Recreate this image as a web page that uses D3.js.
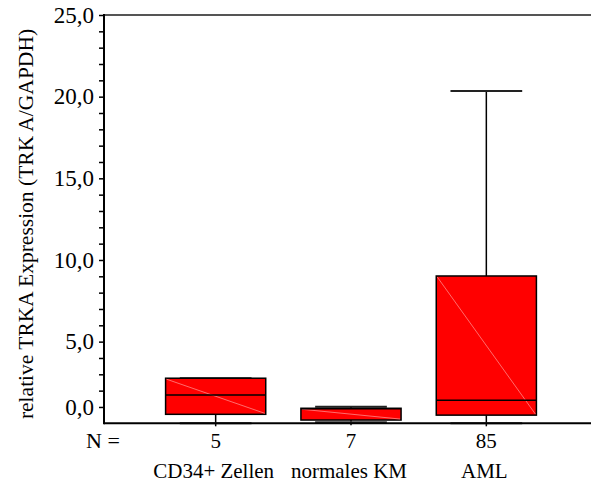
<!DOCTYPE html>
<html>
<head>
<meta charset="utf-8">
<script src="https://cdn.jsdelivr.net/npm/d3@7"></script>
</head>
<body style="margin:0">
<script>
/* DATA */

const categories = ["CD34+ Zellen", "normales KM", "AML"];
const counts = [5, 7, 85];
const whiskerLow = [0, 0.06, 0];
const q1 = [0.55, 0.2, 0.5];
const median = [1.73, 0.89, 1.41];
const q3 = [2.76, 0.92, 9.02];
const whiskerHigh = [2.76, 1.01, 20.35];

const majorTicks = [1, 5, 10, 15, 20, 25];
const tickLabels = ["0,0", "5,0", "10,0", "15,0", "20,0", "25,0"];
const minorTicks = d3.range(1, 25);

/* SET UP */

const w = 591;
const h = 484;
const m = { top: 15, right: 0, bottom: 61, left: 104 };
const font = "'Times New Roman', monospace";

const svg = d3
	.select("body")
	.append("svg")
	.attr("width", w)
	.attr("height", h);

const y = d3.scaleLinear().domain([0, 25]).range([h - m.bottom + 0.3, m.top]);
const x = d3.scaleBand().domain(categories).range([148, 554]).padding(0);

const boxW = x.bandwidth() * 0.74;
const capW = x.bandwidth() * 0.53;

const rows = categories.map((c, i) => ({
	cat: c,
	n: counts[i],
	lo: whiskerLow[i],
	q1: q1[i],
	med: median[i],
	q3: q3[i],
	hi: whiskerHigh[i],
}));

// boxes
const g = svg
	.selectAll(".box")
	.data(rows)
	.join("g")
	.attr("class", "box")
	.attr("transform", (d) => `translate(${x(d.cat) + x.bandwidth() / 2},0)`);

// whiskers
g.append("line")
	.attr("x1", 0).attr("x2", 0)
	.attr("y1", (d) => y(d.q3)).attr("y2", (d) => y(d.hi))
	.attr("stroke", "#000").attr("stroke-width", 1.5);
g.append("line")
	.attr("x1", 0).attr("x2", 0)
	.attr("y1", (d) => y(d.q1)).attr("y2", (d) => y(d.lo) + 3)
	.attr("stroke", "#000").attr("stroke-width", 1.5);
g.append("line")
	.attr("x1", -capW / 2).attr("x2", capW / 2)
	.attr("y1", (d) => y(d.hi)).attr("y2", (d) => y(d.hi))
	.attr("stroke", "#222").attr("stroke-width", 2);
g.append("line")
	.attr("x1", -capW / 2).attr("x2", capW / 2)
	.attr("y1", (d) => y(d.lo)).attr("y2", (d) => y(d.lo))
	.attr("stroke", "#333").attr("stroke-width", 2);

g.append("rect")
	.attr("x", -boxW / 2)
	.attr("width", boxW)
	.attr("y", (d) => y(d.q3))
	.attr("height", (d) => y(d.q1) - y(d.q3))
	.attr("fill", "#ff0000")
	.attr("stroke", "#000")
	.attr("stroke-width", 1.5);

// faint diagonal seen inside each box
g.append("line")
	.attr("x1", -boxW / 2 + 1).attr("x2", boxW / 2 - 1)
	.attr("y1", (d) => y(d.q3) + 1).attr("y2", (d) => y(d.q1) - 1)
	.attr("stroke", "#ff9a9a").attr("stroke-width", 0.7);

g.append("line")
	.attr("x1", -boxW / 2).attr("x2", boxW / 2)
	.attr("y1", (d) => y(d.med)).attr("y2", (d) => y(d.med))
	.attr("stroke", "#000").attr("stroke-width", 1.5);

/* AXES */

// frame lines
svg.append("line")
	.attr("x1", m.left).attr("x2", w)
	.attr("y1", m.top).attr("y2", m.top)
	.attr("stroke", "#555").attr("stroke-width", 2);
svg.append("line")
	.attr("x1", m.left).attr("x2", w)
	.attr("y1", y(0)).attr("y2", y(0))
	.attr("stroke", "#000").attr("stroke-width", 2);

const yAxis = d3
	.axisLeft(y)
	.tickValues(minorTicks.concat([25]))
	.tickSize(5)
	.tickFormat("");
svg.append("g")
	.attr("transform", `translate(${m.left},0)`)
	.call(yAxis)
	.call((s) => s.selectAll(".tick line").attr("stroke", "#000").attr("stroke-width", 1.5))
	.call((s) => s.select(".domain").remove());

svg.append("line")
	.attr("x1", m.left).attr("x2", m.left)
	.attr("y1", m.top - 1).attr("y2", y(0) + 1)
	.attr("stroke", "#000").attr("stroke-width", 2);

svg.selectAll(".ylab")
	.data(majorTicks)
	.join("text")
	.attr("class", "ylab")
	.attr("x", m.left - 10)
	.attr("y", (d) => y(d))
	.attr("dy", "0.34em")
	.attr("text-anchor", "end")
	.attr("font-family", font)
	.attr("font-size", 23)
	.text((d, i) => tickLabels[i]);

// N counts
svg.append("text")
	.attr("x", 103).attr("y", 448)
	.attr("text-anchor", "middle")
	.attr("font-family", font)
	.attr("font-size", 22)
	.text("N =");
svg.selectAll(".nlab")
	.data(rows)
	.join("text")
	.attr("class", "nlab")
	.attr("x", (d) => x(d.cat) + x.bandwidth() / 2)
	.attr("y", 448)
	.attr("text-anchor", "middle")
	.attr("font-family", font)
	.attr("font-size", 21)
	.text((d) => d.n);

svg.selectAll(".clab")
	.data(rows)
	.join("text")
	.attr("class", "clab")
	.attr("x", (d) => x(d.cat) + x.bandwidth() / 2 - 2)
	.attr("y", 478)
	.attr("text-anchor", "middle")
	.attr("font-family", font)
	.attr("font-size", 21)
	.text((d) => d.cat);

// y axis title
svg.append("text")
	.attr("transform", "translate(33,224) rotate(-90)")
	.attr("text-anchor", "middle")
	.attr("font-family", font)
	.attr("font-size", 21.5)
	.text("relative TRKA Expression (TRK A/GAPDH)");
</script>
</body>
</html>
